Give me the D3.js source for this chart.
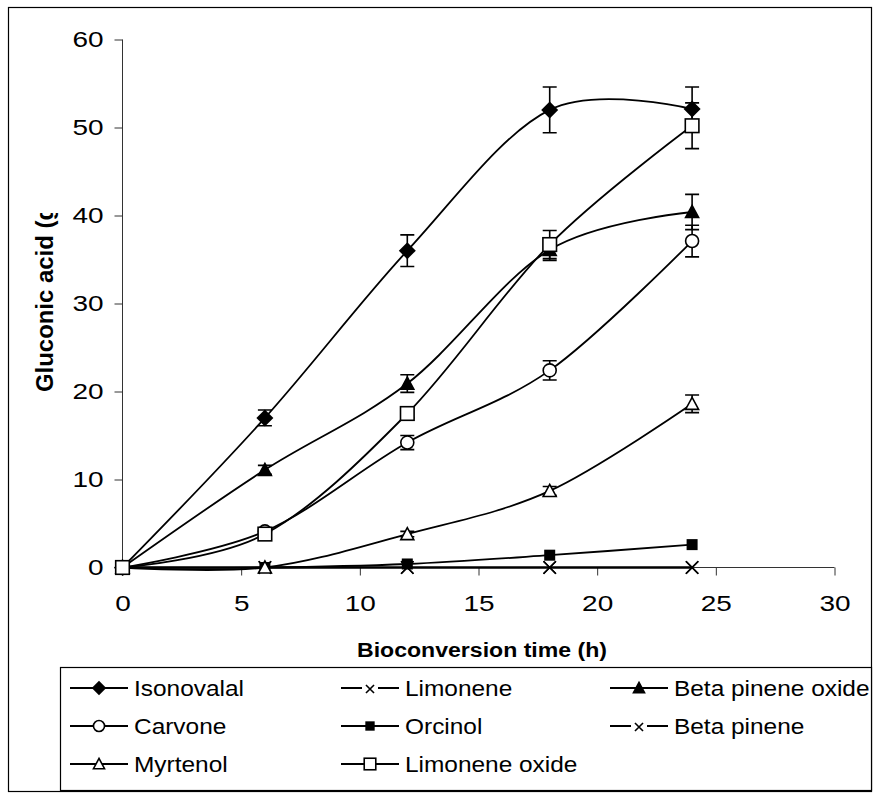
<!DOCTYPE html>
<html><head><meta charset="utf-8">
<script src="https://cdn.jsdelivr.net/npm/d3@7"></script>
<style>body{margin:0;background:#fff}svg{display:block}</style>
</head><body>
<script>
// ---- data ----
const times = [0, 6, 12, 18, 24];
const xTicks = [0, 5, 10, 15, 20, 25, 30];
const yTicks = [0, 10, 20, 30, 40, 50, 60];
const seriesNames = ["Isonovalal", "Limonene", "Beta pinene oxide", "Carvone", "Orcinol", "Beta pinene", "Myrtenol", "Limonene oxide"];
const isonovalal      = [0, 17.0, 36.0, 52.0, 52.1];
const isonovalalErr   = [0, 0.9, 1.8, 2.6, 2.5];
const limonene        = [0, 0, 0, 0, 0];
const limoneneErr     = [0, 0, 0, 0, 0];
const betaPineneOxide = [0, 11.1, 20.9, 36.1, 40.4];
const betaPineneOxideErr = [0, 0.5, 1.0, 1.2, 2.0];
const carvone         = [0, 4.1, 14.2, 22.4, 37.1];
const carvoneErr      = [0, 0.3, 0.8, 1.1, 1.8];
const orcinol         = [0, 0, 0.4, 1.4, 2.6];
const orcinolErr      = [0, 0, 0, 0, 0];
const betaPinene      = [0, 0, 0, 0, 0];
const betaPineneErr   = [0, 0, 0, 0, 0];
const myrtenol        = [0, 0, 3.8, 8.7, 18.6];
const myrtenolErr     = [0, 0, 0.3, 0.5, 1.0];
const limoneneOxide   = [0, 3.8, 17.5, 36.7, 50.2];
const limoneneOxideErr= [0, 0.3, 0.5, 1.6, 2.6];

const seriesValues = [isonovalal, limonene, betaPineneOxide, carvone, orcinol, betaPinene, myrtenol, limoneneOxide];
const seriesErrors = [isonovalalErr, limoneneErr, betaPineneOxideErr, carvoneErr, orcinolErr, betaPineneErr, myrtenolErr, limoneneOxideErr];
const markerKinds = ["diamond", "x", "triFilled", "circle", "sqFilled", "x", "tri", "sq"];

// ---- layout ----
const W = 874, H = 794;
const svg = d3.select("body").append("svg").attr("width", W).attr("height", H)
  .style("font-family", "'Liberation Sans', Arial, sans-serif");

svg.append("rect").attr("x", 8.5).attr("y", 7.5).attr("width", 863).attr("height", 784)
  .attr("fill", "none").attr("stroke", "#000").attr("stroke-width", 1.2);

const x = d3.scaleLinear().domain([0, 30]).range([122.5, 834.5]);
const y = d3.scaleLinear().domain([0, 60]).range([567.5, 39.5]);

function stretch(sel, f) {
  sel.each(function () {
    const len = this.getComputedTextLength();
    d3.select(this).attr("textLength", len * f).attr("lengthAdjust", "spacingAndGlyphs");
  });
}

// axes
const gy = svg.append("g").attr("transform", `translate(${x(0)},0)`)
  .call(d3.axisLeft(y).tickValues(yTicks).tickSize(8).tickPadding(11).tickFormat(d3.format("d")));
const gx = svg.append("g").attr("transform", `translate(0,${y(0)})`)
  .call(d3.axisBottom(x).tickValues(xTicks).tickSize(8).tickPadding(20).tickFormat(d3.format("d")));
[gy, gx].forEach(g => {
  g.select(".domain").attr("stroke", "#333").attr("stroke-width", 1);
  g.selectAll(".tick line").attr("stroke", "#333").attr("stroke-width", 1);
  g.selectAll(".tick text").attr("font-size", 21.5).attr("fill", "#000")
    .style("font-family", "'Liberation Sans', Arial, sans-serif");
});
gx.selectAll(".domain").attr("d", `M${x(0)},0H${x(30)}`);
gy.selectAll(".domain").attr("d", `M0,${y(0)}V${y(60)}`);
stretch(gy.selectAll(".tick text"), 1.3);
stretch(gx.selectAll(".tick text"), 1.3);

// axis titles
const clip = svg.append("clipPath").attr("id", "ytclip");
clip.append("rect").attr("x", 0).attr("y", 213).attr("width", 120).attr("height", 400);
svg.append("g").attr("clip-path", "url(#ytclip)")
  .append("text").attr("transform", "translate(53,392) rotate(-90)")
  .attr("font-size", 24).attr("font-weight", "bold").text("Gluconic acid (g")
  .attr("textLength", 186).attr("lengthAdjust", "spacingAndGlyphs");

const xt = svg.append("text").attr("x", 482).attr("y", 657).attr("text-anchor", "middle")
  .attr("font-size", 20).attr("font-weight", "bold").text("Bioconversion time (h)");
xt.attr("textLength", 250).attr("lengthAdjust", "spacingAndGlyphs");

// ---- marker drawing ----
function drawMarker(g, kind, cx, cy, s) {
  s = s || 1;
  const sw = 1.6;
  if (kind === "diamond") {
    const r = 8.5 * s;
    g.append("path").attr("d", `M${cx},${cy - r}L${cx + r},${cy}L${cx},${cy + r}L${cx - r},${cy}Z`).attr("fill", "#000");
  } else if (kind === "x") {
    const r = 6.2 * s;
    g.append("path").attr("d", `M${cx - r},${cy - r}L${cx + r},${cy + r}M${cx - r},${cy + r}L${cx + r},${cy - r}`)
      .attr("stroke", "#000").attr("stroke-width", sw).attr("fill", "none");
  } else if (kind === "triFilled" || kind === "tri") {
    const r = 6.5 * s;
    g.append("path").attr("d", `M${cx},${cy - r}L${cx + r},${cy + r * 0.85}L${cx - r},${cy + r * 0.85}Z`)
      .attr("fill", kind === "tri" ? "#fff" : "#000").attr("stroke", "#000").attr("stroke-width", sw);
  } else if (kind === "circle") {
    g.append("circle").attr("cx", cx).attr("cy", cy).attr("r", 6.5 * s)
      .attr("fill", "#fff").attr("stroke", "#000").attr("stroke-width", sw);
  } else if (kind === "sqFilled") {
    const r = 5.5 * s;
    g.append("rect").attr("x", cx - r).attr("y", cy - r).attr("width", 2 * r).attr("height", 2 * r).attr("fill", "#000");
  } else if (kind === "sq") {
    const r = 6.8 * s;
    g.append("rect").attr("x", cx - r).attr("y", cy - r).attr("width", 2 * r).attr("height", 2 * r)
      .attr("fill", "#fff").attr("stroke", "#000").attr("stroke-width", sw);
  }
}

// ---- series ----
const line = d3.line().x(d => x(d.t)).y(d => y(d.v)).curve(d3.curveCardinal.tension(0));
const plot = svg.append("g");
seriesValues.forEach((vals, i) => {
  const pts = times.map((t, j) => ({ t, v: vals[j], e: seriesErrors[i][j] }));
  const g = plot.append("g");
  g.append("path").attr("d", line(pts)).attr("fill", "none").attr("stroke", "#000").attr("stroke-width", 1.8);
  pts.filter(p => p.e > 0).forEach(p => {
    const cx = x(p.t), y1 = y(p.v + p.e), y2 = y(p.v - p.e);
    g.append("path").attr("d", `M${cx},${y1}V${y2}M${cx - 7},${y1}H${cx + 7}M${cx - 7},${y2}H${cx + 7}`)
      .attr("stroke", "#000").attr("stroke-width", 1.6).attr("fill", "none");
  });
  pts.forEach(p => drawMarker(g, markerKinds[i], x(p.t), y(p.v)));
});

// ---- legend ----
svg.append("rect").attr("x", 60.5).attr("y", 667.5).attr("width", 811).attr("height", 123)
  .attr("fill", "#fff").attr("stroke", "#000").attr("stroke-width", 1.2);
const colX = [70, 341, 610], rowY = [688, 726, 764];
seriesNames.forEach((name, i) => {
  const cx0 = colX[i % 3], cy = rowY[Math.floor(i / 3)];
  const g = svg.append("g");
  g.append("path").attr("d", `M${cx0},${cy}H${cx0 + 58}`).attr("stroke", "#000").attr("stroke-width", 1.8);
  if (markerKinds[i] === "x") {
    g.append("rect").attr("x", cx0 + 21).attr("y", cy - 6).attr("width", 16).attr("height", 12).attr("fill", "#fff");
    drawMarker(g, "x", cx0 + 29, cy + 1, 0.65);
  } else {
    drawMarker(g, markerKinds[i], cx0 + 29, cy, 0.85);
  }
  const t = g.append("text").attr("x", cx0 + 64).attr("y", cy).attr("dy", "0.35em")
    .attr("font-size", 22).text(name);
  stretch(t, 1.11);
});
</script>
</body></html>
